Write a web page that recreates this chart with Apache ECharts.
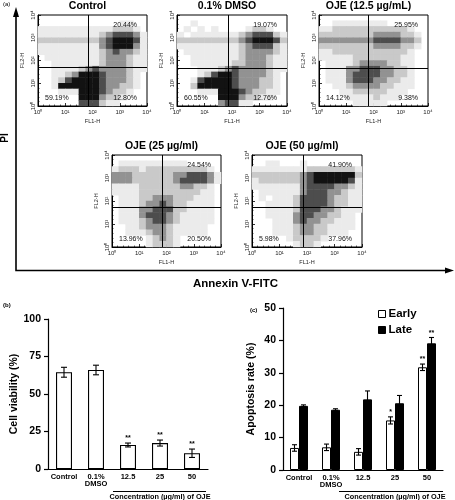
<!DOCTYPE html>
<html><head><meta charset="utf-8">
<script src="https://cdn.jsdelivr.net/npm/echarts@6/dist/echarts.min.js"></script>
<style>html,body{margin:0;padding:0;background:#fff}#c{width:455px;height:500px}</style>
</head><body><div id="c"></div>
<script>
const FONT = '"Liberation Sans", Arial, Helvetica, sans-serif';

// ---------- (a) flow cytometry panels ----------
const panelTitles = ['Control', '0.1% DMSO', 'OJE (12.5 µg/mL)', 'OJE (25 µg/ml)', 'OJE (50 µg/ml)'];
// [upper-right, lower-left, lower-right]
const quadPercents = [
  ['20.44%', '59.19%', '12.80%'],
  ['19.07%', '60.55%', '12.76%'],
  ['25.95%', '14.12%', '9.38%'],
  ['24.54%', '13.96%', '20.50%'],
  ['41.90%', '5.98%', '37.96%']
];
// quadrant gates in log10 units
const gateX = [1.85, 1.87, 1.81, 1.84, 1.85];
const gateY = [1.70, 1.68, 1.68, 1.71, 1.71];
const decadeTicks = ['10⁰', '10¹', '10²', '10³', '10⁴'];
// dot density (0-5), 16x16 bins over 4 decades, rows top (10^4) to bottom (10^0)
const densityControl = [
  '0000000000000000',
  '0000000000001100',
  '1111111111122210',
  '1111111112344431',
  '2222222223455541',
  '1111111113455531',
  '1111111112343321',
  '0111111112333211',
  '0011111112333211',
  '0011112343333211',
  '0011235554333210',
  '0012455554333210',
  '0015555554332210',
  '0001115554322100',
  '0000005553221000',
  '0000004442110000'
];
const densityDMSO = [
  '0000000000000000',
  '0010000000000000',
  '0101010000122100',
  '1011111112344421',
  '2222222223455542',
  '1111111112344421',
  '0111111112333321',
  '0011111112333211',
  '0011111122333211',
  '0001112343333211',
  '0001245543333210',
  '0014555543332210',
  '0025555543332210',
  '0001115554322110',
  '0000005553221100',
  '0000003441100000'
];
const densityOJE125 = [
  '0000000000000000',
  '0011111111000000',
  '1122222222222100',
  '2222222233332210',
  '3333333344443320',
  '2222222233332210',
  '1122222222222100',
  '1111122222221100',
  '0111123333221100',
  '0111334443322100',
  '0111344443322100',
  '0111344433221100',
  '0011233332211100',
  '0001122222111000',
  '0000111121110000',
  '0000011111000000'
];
const densityOJE25 = [
  '0000000000000000',
  '0111111111100000',
  '1222122222222210',
  '3332222223344431',
  '3332222223444431',
  '1111222222332210',
  '1111222222222110',
  '0111223332221110',
  '0111233432211110',
  '0111334442211110',
  '0111344432111110',
  '0111234432111110',
  '0011233321111100',
  '0011123321111100',
  '0000012321000000',
  '0000012221000000'
];
const densityOJE50 = [
  '0000000000000000',
  '0011000100000000',
  '1111111122222221',
  '2222222345555552',
  '1222222345555541',
  '1111111344443321',
  '0111111344433211',
  '0101112444432211',
  '0011112444432211',
  '0011112444332111',
  '0011113443322110',
  '0001113433221110',
  '0001112332211110',
  '0001112332211100',
  '0000012222100000',
  '0000001221000000'
];
const densities = [densityControl, densityDMSO, densityOJE125, densityOJE25, densityOJE50];
const densityShades = ['#ffffff', '#ebebeb', '#c9c9c9', '#929292', '#4d4d4d', '#121212'];

// ---------- (b) & (c) bar charts ----------
const categories = ['Control', '0.1%\nDMSO', '12.5', '25', '50'];
const viability = [64.5, 66.0, 16.0, 17.3, 10.5];
const viabilityErr = [3.3, 3.2, 1.3, 2.0, 2.8];
const viabilitySig = ['', '', '**', '**', '**'];
const earlyRate = [6.8, 7.0, 5.6, 15.3, 31.7];
const earlyErr = [1.0, 1.0, 1.0, 1.1, 1.0];
const earlySig = ['', '', '', '*', '**'];
const lateRate = [19.8, 18.6, 21.8, 20.6, 39.1];
const lateErr = [0.3, 0.3, 2.6, 2.4, 1.8];
const lateSig = ['', '', '', '', '**'];

// ---------- layout (pixels) ----------
const panelBoxes = [
  {left: 38, top: 15, width: 109, height: 91},
  {left: 177, top: 15, width: 110, height: 91},
  {left: 319, top: 15, width: 109, height: 91},
  {left: 112, top: 155, width: 109, height: 92},
  {left: 252, top: 155, width: 110, height: 92}
];

const chart = echarts.init(document.getElementById('c'), null, {renderer: 'canvas'});

const grids = [], xAxes = [], yAxes = [], series = [], graphics = [];
const bins = Array.from({length: 16}, (_, i) => String(i));

function txt(x, y, text, o) {
  o = o || {};
  const st = {
    text: text, fill: o.fill || '#000', fontSize: o.size || 8, fontWeight: o.weight || 'normal',
    fontFamily: FONT, align: o.align || 'left', textAlign: o.align || 'left',
    verticalAlign: o.va || 'middle', textVerticalAlign: o.va || 'middle'
  };
  const g = {type: 'text', x: x, y: y, style: st, silent: true, z: 100};
  if (o.rotation) g.rotation = o.rotation;
  return g;
}

panelBoxes.forEach((b, i) => {
  grids.push({left: b.left, top: b.top, width: b.width, height: b.height, show: true,
    borderColor: '#000', borderWidth: 1, backgroundColor: 'transparent', containLabel: false, outerBoundsMode: 'none'});
  xAxes.push({
    gridIndex: i, type: 'value', min: 0, max: 4, interval: 1, position: 'bottom',
    axisLine: {show: true, onZero: false, lineStyle: {color: '#000', width: 1}},
    axisTick: {show: true, inside: true, length: 3, lineStyle: {color: '#000', width: 0.8}},
    minorTick: {show: true, splitNumber: 5, length: 1.5, lineStyle: {color: '#000', width: 0.6}},
    splitLine: {show: false},
    axisLabel: {formatter: v => decadeTicks[Math.round(v)], fontSize: 6, color: '#222', margin: 3, fontFamily: FONT},
    name: 'FL1-H', nameLocation: 'middle', nameGap: 12,
    nameTextStyle: {fontSize: 5.5, color: '#222', fontFamily: FONT}
  });
  xAxes.push({gridIndex: i, type: 'category', data: bins, show: false, position: 'top'});
  yAxes.push({
    gridIndex: i, type: 'value', min: 0, max: 4, interval: 1, position: 'left',
    axisLine: {show: true, onZero: false, lineStyle: {color: '#000', width: 1}},
    axisTick: {show: true, inside: true, length: 3, lineStyle: {color: '#000', width: 0.8}},
    minorTick: {show: true, splitNumber: 5, length: 1.5, lineStyle: {color: '#000', width: 0.6}},
    splitLine: {show: false},
    axisLabel: {formatter: v => decadeTicks[Math.round(v)], fontSize: 6, color: '#222', margin: 2, rotate: 90, fontFamily: FONT},
    name: 'FL2-H', nameLocation: 'middle', nameGap: 13,
    nameTextStyle: {fontSize: 5.5, color: '#222', fontFamily: FONT}
  });
  yAxes.push({gridIndex: i, type: 'category', data: bins, show: false, position: 'right'});

  const rows = densities[i];
  const data = [];
  rows.forEach((row, r) => {
    for (let c = 0; c < row.length; c++) {
      const lvl = +row[c];
      if (lvl > 0) data.push([c, 15 - r, lvl]);
    }
  });
  series.push({type: 'heatmap', xAxisIndex: 2 * i + 1, yAxisIndex: 2 * i + 1, data: data,
    itemStyle: {borderWidth: 0}, emphasis: {disabled: true}, silent: true});
  series.push({type: 'line', xAxisIndex: 2 * i, yAxisIndex: 2 * i, data: [], silent: true,
    markLine: {symbol: ['none', 'none'], silent: true, label: {show: false},
      lineStyle: {color: '#000', width: 1, type: 'solid'}, emphasis: {disabled: true},
      data: [{xAxis: gateX[i]}, {yAxis: gateY[i]}]}});

  // title and quadrant percentages
  graphics.push(txt(b.left + b.width / 2 - 5, b.top - 9, panelTitles[i], {size: 10.5, weight: 'bold', align: 'center'}));
  const p = quadPercents[i];
  graphics.push(txt(b.left + b.width - 10, b.top + 10, p[0], {size: 7, align: 'right', fill: '#111'}));
  graphics.push(txt(b.left + 7, b.top + b.height - 8, p[1], {size: 7, align: 'left', fill: '#111'}));
  graphics.push(txt(b.left + b.width - 10, b.top + b.height - 8, p[2], {size: 7, align: 'right', fill: '#111'}));
});

// (a) frame arrows & labels
graphics.push({type: 'polyline', shape: {points: [[16, 16], [16, 270.5], [447, 270.5]]}, style: {stroke: '#000', lineWidth: 1.6, fill: null}, silent: true});
graphics.push({type: 'polygon', shape: {points: [[13, 17], [19, 17], [16, 7]]}, style: {fill: '#000'}, silent: true});
graphics.push({type: 'polygon', shape: {points: [[445, 267.5], [445, 273.5], [454, 270.5]]}, style: {fill: '#000'}, silent: true});
graphics.push(txt(3, 4, '(a)', {size: 6}));
graphics.push(txt(5, 138, 'PI', {size: 10, weight: 'bold', align: 'center', rotation: Math.PI / 2}));
graphics.push(txt(193, 284, 'Annexin V-FITC', {size: 11.5, weight: 'bold'}));

// ---------- bar chart grids ----------
const GB = 5, GC = 6;
grids.push({left: 48, top: 319, width: 160, height: 150, containLabel: false, outerBoundsMode: 'none'});
grids.push({left: 283, top: 308, width: 160, height: 162, containLabel: false, outerBoundsMode: 'none'});

function catAxis(g) {
  return {gridIndex: g, type: 'category', data: categories,
    axisLine: {show: true, lineStyle: {color: '#000', width: 1.2}},
    axisTick: {show: false},
    axisLabel: {interval: 0, fontSize: 7.5, fontWeight: 'bold', color: '#000', lineHeight: 7.5, margin: 4, fontFamily: FONT}};
}
function valAxis(g, max, interval, name, gap) {
  return {gridIndex: g, type: 'value', min: 0, max: max, interval: interval,
    axisLine: {show: true, lineStyle: {color: '#000', width: 1.2}},
    axisTick: {show: true, length: 4, lineStyle: {color: '#000', width: 1.2}},
    splitLine: {show: false},
    axisLabel: {fontSize: 10.5, fontWeight: 'bold', color: '#000', margin: 7, fontFamily: FONT},
    name: name, nameLocation: 'middle', nameGap: gap,
    nameTextStyle: {fontSize: 10.5, fontWeight: 'bold', color: '#000', fontFamily: FONT}};
}
xAxes.push(catAxis(GB));
xAxes.push(catAxis(GC));
yAxes.push(valAxis(GB, 100, 25, 'Cell viability (%)', 28));
yAxes.push(valAxis(GC, 50, 10, 'Apoptosis rate (%)', 26));
const XB = xAxes.length - 2, XC = xAxes.length - 1, YB = yAxes.length - 2, YC = yAxes.length - 1;

function errSeries(xi, yi, vals, errs, sigs, offset, cap) {
  return {
    type: 'custom', xAxisIndex: xi, yAxisIndex: yi, silent: true, z: 5,
    data: vals.map((v, i) => [i, v, errs[i]]),
    renderItem: function (params, api) {
      const idx = api.value(0), v = api.value(1), e = api.value(2);
      const t = api.coord([idx, v + e]);
      const btm = api.coord([idx, v - e]);
      const cx = t[0] + offset;
      const ls = {stroke: '#000', lineWidth: 1.1};
      const children = [
        {type: 'line', shape: {x1: cx, y1: t[1], x2: cx, y2: btm[1]}, style: ls},
        {type: 'line', shape: {x1: cx - cap, y1: t[1], x2: cx + cap, y2: t[1]}, style: ls},
        {type: 'line', shape: {x1: cx - cap, y1: btm[1], x2: cx + cap, y2: btm[1]}, style: ls}
      ];
      const s = sigs[params.dataIndex];
      if (s) children.push({type: 'text', x: cx, y: t[1] - 1,
        style: {text: s, fill: '#000', fontSize: 7, fontWeight: 'bold', fontFamily: FONT,
          align: 'center', textAlign: 'center', verticalAlign: 'bottom', textVerticalAlign: 'bottom'}});
      return {type: 'group', children: children};
    }
  };
}

series.push({type: 'bar', name: 'Viability', xAxisIndex: XB, yAxisIndex: YB, data: viability, barWidth: 16,
  itemStyle: {color: '#fff', borderColor: '#000', borderWidth: 1.1}, silent: true});
series.push(errSeries(XB, YB, viability, viabilityErr, viabilitySig, 0, 3));

series.push({type: 'bar', name: 'Early', xAxisIndex: XC, yAxisIndex: YC, data: earlyRate, barWidth: 9, barGap: '0%',
  itemStyle: {color: '#fff', borderColor: '#000', borderWidth: 1}, silent: true});
series.push({type: 'bar', name: 'Late', xAxisIndex: XC, yAxisIndex: YC, data: lateRate, barWidth: 9, barGap: '0%',
  itemStyle: {color: '#000', borderColor: '#000', borderWidth: 1}, silent: true});
series.push(errSeries(XC, YC, earlyRate, earlyErr, earlySig, -4.5, 2.5));
series.push(errSeries(XC, YC, lateRate, lateErr, lateSig, 4.5, 2.5));

// bar chart labels and brackets
graphics.push(txt(3, 305, '(b)', {size: 6, weight: 'bold'}));
graphics.push(txt(250, 310, '(c)', {size: 6, weight: 'bold'}));
graphics.push({type: 'line', shape: {x1: 113, y1: 491.5, x2: 206, y2: 491.5}, style: {stroke: '#000', lineWidth: 1}, silent: true});
graphics.push({type: 'line', shape: {x1: 339, y1: 491.5, x2: 443, y2: 491.5}, style: {stroke: '#000', lineWidth: 1}, silent: true});
graphics.push(txt(160, 496.5, 'Concentration (µg/ml) of OJE', {size: 7.3, weight: 'bold', align: 'center'}));
graphics.push(txt(395, 496.5, 'Concentration (µg/ml) of OJE', {size: 7.3, weight: 'bold', align: 'center'}));

chart.setOption({
  animation: false,
  backgroundColor: '#fff',
  textStyle: {fontFamily: FONT},
  grid: grids,
  xAxis: xAxes,
  yAxis: yAxes,
  visualMap: {
    type: 'piecewise', show: false, seriesIndex: [0, 2, 4, 6, 8], dimension: 2,
    pieces: [1, 2, 3, 4, 5].map(l => ({value: l, color: densityShades[l]}))
  },
  legend: {
    data: [{name: 'Early', icon: 'rect'}, {name: 'Late', icon: 'rect'}],
    orient: 'vertical', left: 378, top: 308, itemWidth: 7, itemHeight: 7, itemGap: 4, padding: 0,
    itemStyle: {borderColor: '#000', borderWidth: 1},
    textStyle: {fontSize: 11.5, fontWeight: 'bold', color: '#000', fontFamily: FONT, padding: [0, 0, 0, -2]},
    selectedMode: false
  },
  graphic: graphics,
  series: series
});
</script>
</body></html>
